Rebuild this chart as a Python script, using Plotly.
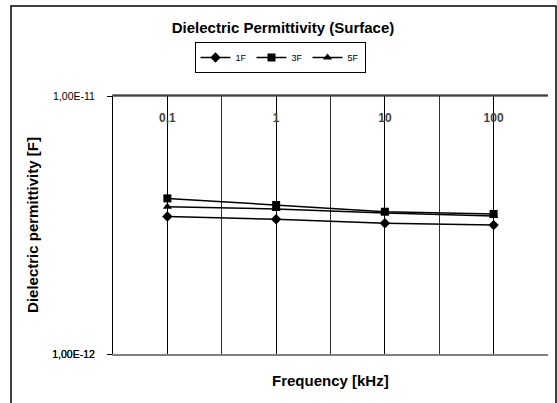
import plotly.graph_objects as go

categories = ["0,1", "1", "10", "100"]
series_names = ["1F", "3F", "5F"]
values_1F = [3.41e-12, 3.33e-12, 3.21e-12, 3.16e-12]
values_3F = [4.01e-12, 3.78e-12, 3.56e-12, 3.49e-12]
values_5F = [3.72e-12, 3.65e-12, 3.52e-12, 3.43e-12]
y_tick_vals = [1e-12, 1e-11]
y_tick_text = ["1,00E-12", "1,00E-11"]

x_idx = list(range(len(categories)))
FONT = "Liberation Sans, Arial, sans-serif"

fig = go.Figure()
symbols = ["diamond", "square", "triangle-up"]
for name, vals, sym in zip(series_names, [values_1F, values_3F, values_5F], symbols):
    fig.add_trace(go.Scatter(
        x=x_idx, y=vals, name=name, mode="lines+markers",
        line=dict(color="black", width=1.5),
        marker=dict(symbol=sym, size=8, color="black"),
    ))
# invisible helper traces for the overlaid axes
fig.add_trace(go.Scatter(x=x_idx, y=values_1F, xaxis="x2", mode="none",
                         showlegend=False, hoverinfo="skip"))
fig.add_trace(go.Scatter(x=x_idx, y=values_1F, yaxis="y2", mode="none",
                         showlegend=False, hoverinfo="skip"))

L, R, T, B = 113, 548, 96, 354
W, H = 557, 403

yaxis_common = dict(
    type="log", range=[-12, -11],
    tickvals=y_tick_vals, ticktext=y_tick_text,
    ticks="outside", ticklen=5, tickcolor="black",
    ticklabelstandoff=10,
    tickfont=dict(size=10.5, family=FONT),
    showgrid=False, zeroline=False,
)

fig.update_layout(
    width=W, height=H,
    margin=dict(l=L, r=W - R, t=T, b=H - B),
    paper_bgcolor="white", plot_bgcolor="white",
    font=dict(family=FONT, color="black", size=10),
    title=dict(text="<b>Dielectric Permittivity (Surface)</b>", x=283 / W, xanchor="center",
               y=1 - 28 / H, yanchor="middle", font=dict(size=15, family=FONT)),
    showlegend=True,
    legend=dict(orientation="h", x=(280 - L) / (R - L), xanchor="center",
                y=1 + (T - 42) / (B - T), yanchor="top",
                bordercolor="black", borderwidth=1, font=dict(size=9, family=FONT),
                itemwidth=30, tracegroupgap=0),
    xaxis=dict(
        range=[-0.5, len(categories) - 0.5],
        tickvals=x_idx, showticklabels=False, ticks="",
        showgrid=True, gridcolor="black", gridwidth=1,
        minor=dict(tick0=-0.5, dtick=1, showgrid=True, gridcolor="#303030", gridwidth=1),
        showline=True, linecolor="#808080", linewidth=1.5, mirror=True,
        zeroline=False,
    ),
    xaxis2=dict(
        overlaying="x", side="top", matches="x",
        range=[-0.5, len(categories) - 0.5],
        tickvals=x_idx, ticktext=categories,
        ticklabelposition="inside", ticks="", ticklabelstandoff=15,
        tickfont=dict(size=12, family=FONT, weight="bold"),
        showgrid=False, showline=False, zeroline=False,
    ),
    yaxis=dict(
        **yaxis_common,
        showline=True, linecolor="black", linewidth=1,
        title=dict(text="<b>Dielectric permittivity [F]</b>", font=dict(size=15, family=FONT), standoff=10),
    ),
    yaxis2=dict(
        **yaxis_common,
        overlaying="y", side="left", anchor="x",
        showline=False,
    ),
)

# black top edge and outer chart border
fig.add_shape(type="line", xref="x domain", yref="y domain", x0=0, x1=1, y0=1, y1=1,
              line=dict(color="black", width=1))
fig.add_shape(type="rect", xref="paper", yref="paper",
              x0=(11 - L) / (R - L), x1=(556 - L) / (R - L),
              y0=(B - 420) / (B - T), y1=(B - 6) / (B - T),
              line=dict(color="black", width=1.5), layer="below")

fig.add_annotation(text="<b>Frequency [kHz]</b>", xref="paper", yref="paper",
                   x=0.5, y=(B - 380) / (B - T), xanchor="center", yanchor="middle",
                   showarrow=False, font=dict(size=15, family=FONT))

fig.write_html("out.html")
